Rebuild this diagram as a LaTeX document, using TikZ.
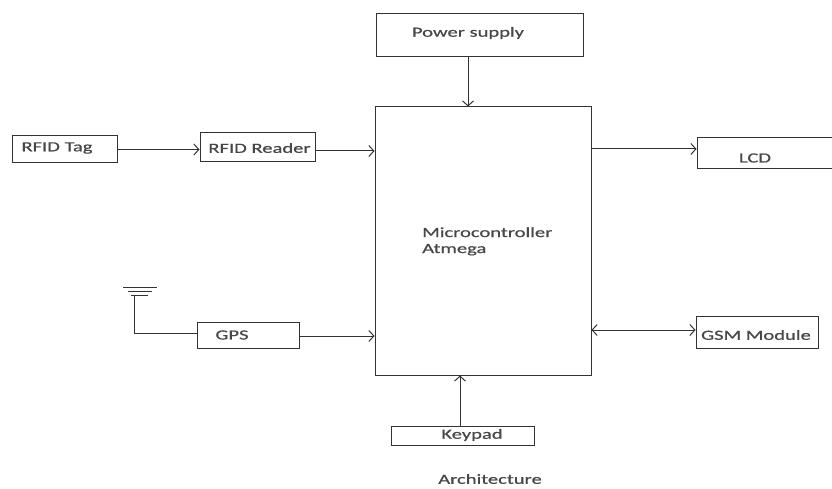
\documentclass[tikz,border=0pt]{standalone}
\usepackage{fontspec}
\setmainfont{Carlito}[FakeStretch=1.47, FakeBold=0.6]
\usetikzlibrary{arrows.meta}
\definecolor{ink}{gray}{0.2}
\definecolor{txt}{gray}{0.28}
\tikzset{
  box/.style={draw=ink, line width=1pt, inner sep=0pt},
  lbl/.style={text=txt, font=\fontsize{14pt}{16pt}\selectfont, inner sep=0pt},
  arr/.style={draw=ink, line width=1pt, -{Straight Barb[length=5pt,width=11pt]}},
  biarr/.style={draw=ink, line width=1pt, {Straight Barb[length=5pt,width=11pt]}-{Straight Barb[length=5pt,width=11pt]}},
  wire/.style={draw=ink, line width=1pt}
}
\begin{document}
\begin{tikzpicture}[x=1pt,y=-1pt]
\useasboundingbox (0,0) rectangle (832,489);
\clip (0,0) rectangle (832,489);
% boxes
\node[box, minimum width=207pt, minimum height=43pt] (ps) at (479.5,35.5) {};
\node[box, minimum width=216pt, minimum height=268pt] (mc) at (483,241) {};
\node[box, minimum width=105pt, minimum height=27pt] (tag) at (64.5,149.5) {};
\node[box, minimum width=115pt, minimum height=29pt] (reader) at (257.5,147.5) {};
\node[box, minimum width=150pt, minimum height=31pt] (lcd) at (772,153.5) {};
\node[box, minimum width=122pt, minimum height=32pt] (gsm) at (757,332) {};
\node[box, minimum width=102pt, minimum height=26pt] (gps) at (248,335) {};
\node[box, minimum width=143pt, minimum height=19pt] (key) at (462.5,435.5) {};
% texts
\node[lbl] (tps) at (468,33) {Power supply};
\node[lbl] (ttag) at (57,148) {RFID Tag};
\node[lbl] (treader) at (259.5,148) {RFID Reader};
\node[lbl] (tlcd) at (755,158) {LCD};
\node[lbl] (tgsm) at (756,335) {GSM Module};
\node[lbl] (tgps) at (232,335) {GPS};
\node[lbl] (tkey) at (472,435) {Keypad};
\node[lbl, anchor=base west, align=left] (tmc) at (422,253) {Microcontroller\\Atmega};
\node[lbl] (tarch) at (490,479) {Architecture};
% connectors
\draw[arr] (ps.south -| 468,0) -- (mc.north -| 468,0);
\draw[arr] (tag.east) -- (reader.west |- tag.east);
\draw[arr] (reader.east |- 0,151) -- (mc.west |- 0,151);
\draw[arr] (mc.east |- 0,149) -- (lcd.west |- 0,149);
\draw[biarr] (mc.east |- 0,330) -- (gsm.west |- 0,330);
\draw[arr] (gps.east |- 0,336) -- (mc.west |- 0,336);
\draw[arr] (key.north -| 460,0) -- (mc.south -| 460,0);
% antenna
\coordinate (ant) at (134,295);
\draw[wire] (ant) |- (gps.west |- 0,333);
\draw[wire] (123,287) -- (157,287);
\draw[wire] (128,291) -- (152,291);
\draw[wire] (131,295) -- (148,295);
\end{tikzpicture}
\end{document}
